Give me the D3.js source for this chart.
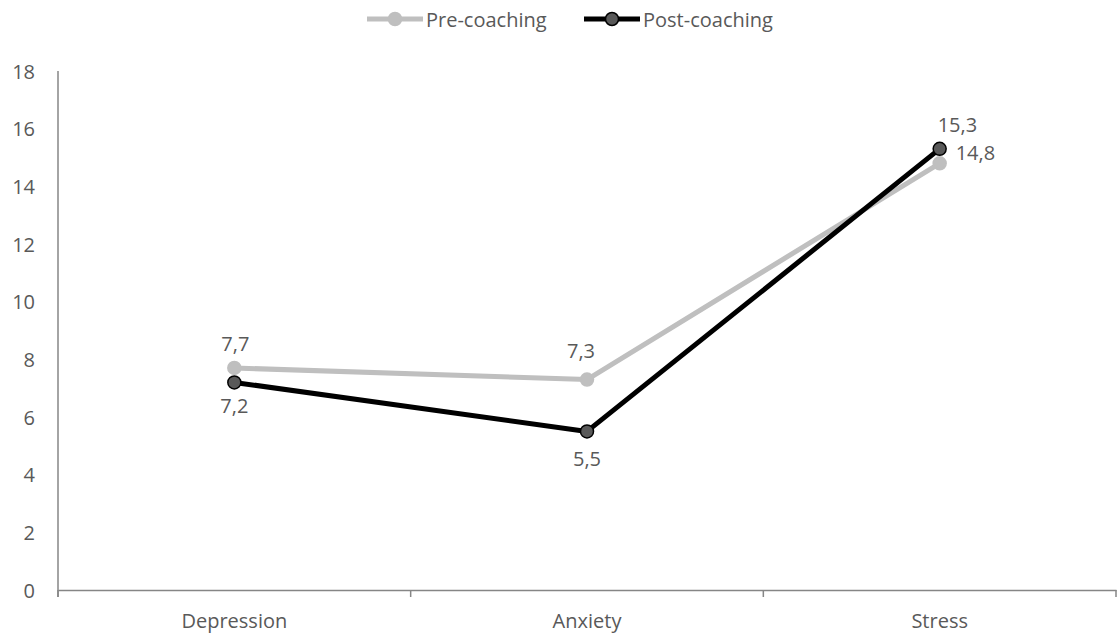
<!DOCTYPE html>
<html>
<head>
<meta charset="utf-8">
<script src="https://cdn.jsdelivr.net/npm/d3@7"></script>
<style>
  body { margin: 0; background: #fff; }
  svg { display: block; }
  text { font-family: "Open Sans", "Noto Sans", sans-serif; fill: #595959; }
</style>
</head>
<body>
<svg id="chart" width="1117" height="634"></svg>
<script>
// Scale scores before and after coaching
const categories = ["Depression", "Anxiety", "Stress"];
const preCoaching = [7.7, 7.3, 14.8];
const postCoaching = [7.2, 5.5, 15.3];
const yTicks = [0, 2, 4, 6, 8, 10, 12, 14, 16, 18];
const seriesNames = ["Pre-coaching", "Post-coaching"];

const svg = d3.select("#chart");
const W = 1117, H = 634;
const margin = { left: 58, right: 1, top: 71, bottom: 44 };
const fontSize = "20px";

const x = d3.scaleBand().domain(categories).range([margin.left, W - margin.right]);
const y = d3.scaleLinear().domain([0, 18]).range([H - margin.bottom, margin.top]);

const axisColor = "#868686";

// y axis
const yAxis = svg.append("g").attr("transform", `translate(${margin.left},0)`)
  .call(d3.axisLeft(y).tickValues(yTicks).tickSize(0).tickPadding(23).tickFormat(d3.format("d")));
yAxis.select(".domain").remove();
yAxis.selectAll("text").style("font-size", fontSize).attr("fill", "#595959").attr("dy", "0.36em");
svg.append("line")
  .attr("x1", margin.left).attr("x2", margin.left)
  .attr("y1", y(18)).attr("y2", y(0) + 7)
  .attr("stroke", axisColor).attr("stroke-width", 1.5);

// x axis with tick marks between categories
const xAxis = svg.append("g").attr("transform", `translate(0,${y(0)})`)
  .call(d3.axisBottom(x).tickSize(0).tickPadding(0));
xAxis.select(".domain").attr("stroke", axisColor).attr("stroke-width", 1.5);
xAxis.selectAll("text").style("font-size", fontSize).attr("fill", "#595959").attr("dy", null).attr("y", 38);
const bounds = categories.map(c => x(c)).concat([x(categories[categories.length - 1]) + x.bandwidth()]);
svg.append("g").selectAll("line").data(bounds).join("line")
  .attr("x1", d => d).attr("x2", d => d)
  .attr("y1", y(0)).attr("y2", y(0) + 7)
  .attr("stroke", axisColor).attr("stroke-width", 1.5);

const cx = c => x(c) + x.bandwidth() / 2;

// label placement: [dx, dy to baseline, anchor]
const series = [
  { name: seriesNames[0], values: preCoaching, line: "#BFBFBF", fill: "#BFBFBF", stroke: "#BFBFBF",
    labels: [[1, -17, "middle"], [-6, -22, "middle"], [16, -3, "start"]] },
  { name: seriesNames[1], values: postCoaching, line: "#000000", fill: "#595959", stroke: "#000000",
    labels: [[0, 31, "middle"], [0, 35, "middle"], [-2, -17, "start"]] }
];

const line = d3.line().x((d, i) => cx(categories[i])).y(d => y(d));

series.forEach(s => {
  svg.append("path").datum(s.values)
    .attr("d", line).attr("fill", "none")
    .attr("stroke", s.line).attr("stroke-width", 5).attr("stroke-linejoin", "round");
});

series.forEach(s => {
  svg.append("g").selectAll("circle").data(s.values).join("circle")
    .attr("cx", (d, i) => cx(categories[i])).attr("cy", d => y(d)).attr("r", 6.5)
    .attr("fill", s.fill).attr("stroke", s.stroke).attr("stroke-width", 1.5);
});

const fmt = v => d3.format(".1f")(v).replace(".", ",");
series.forEach(s => {
  svg.append("g").selectAll("text").data(s.values).join("text")
    .attr("x", (d, i) => cx(categories[i]) + s.labels[i][0])
    .attr("y", (d, i) => y(d) + s.labels[i][1])
    .attr("text-anchor", (d, i) => s.labels[i][2])
    .style("font-size", fontSize)
    .text(d => fmt(d));
});

// legend
const legend = svg.append("g");
const legendItems = [
  { s: series[0], x0: 367, tx: 426 },
  { s: series[1], x0: 584, tx: 643 }
];
legendItems.forEach(it => {
  const g = legend.append("g");
  g.append("line").attr("x1", it.x0).attr("x2", it.x0 + 56).attr("y1", 19).attr("y2", 19)
    .attr("stroke", it.s.line).attr("stroke-width", 5);
  g.append("circle").attr("cx", it.x0 + 28).attr("cy", 19).attr("r", 6.5)
    .attr("fill", it.s.fill).attr("stroke", it.s.stroke).attr("stroke-width", 1.5);
  g.append("text").attr("x", it.tx).attr("y", 27).style("font-size", fontSize).text(it.s.name);
});
</script>
</body>
</html>
